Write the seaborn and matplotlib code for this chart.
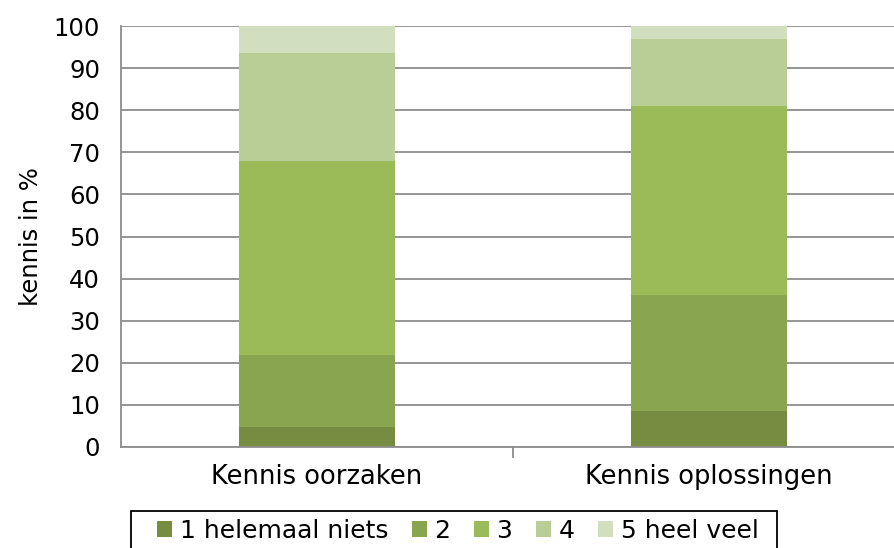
import numpy as np
import pandas as pd
import seaborn as sns
import matplotlib.pyplot as plt
from matplotlib.patches import Rectangle

categories = ["Kennis oorzaken", "Kennis oplossingen"]
levels = ["1 helemaal niets", "2", "3", "4", "5 heel veel"]
level_1 = [4.7, 8.6]
level_2 = [17.2, 27.6]
level_3 = [46.0, 44.8]
level_4 = [25.6, 15.9]
level_5 = [6.5, 3.1]
colors = ["#758C41", "#8AA54F", "#9BBB59", "#B9CE96", "#D2DFBF"]

sns.set_style("white")
plt.rcParams['font.family'] = ['DejaVu Sans']
plt.rcParams['text.color'] = 'black'
plt.rcParams['axes.labelcolor'] = 'black'
plt.rcParams['xtick.labelcolor'] = 'black'
plt.rcParams['ytick.labelcolor'] = 'black'

fig = plt.figure(figsize=(8.95, 5.48), dpi=100)
ax = fig.add_axes([121 / 895, (548 - 447) / 548, 784 / 895, 421 / 548])

bottom = np.zeros(len(categories))
for name, vals, c in zip(levels, [level_1, level_2, level_3, level_4, level_5], colors):
    df = pd.DataFrame({"cat": categories, "val": vals})
    sns.barplot(data=df, x="cat", y="val", bottom=bottom, color=c, width=0.4,
                label=name, ax=ax, linewidth=0, saturation=1)
    bottom += np.array(vals)

ax.set_ylim(0, 100)
ax.set_xlim(-0.5, 1.5)
ax.set_yticks(range(0, 101, 10))
ax.yaxis.grid(True, color="#8c8c8c", linewidth=1.3)
ax.set_axisbelow(True)
for s in ["top", "right"]:
    ax.spines[s].set_visible(False)
ax.spines["left"].set_color("#8c8c8c")
ax.spines["bottom"].set_color("#8c8c8c")
ax.spines["left"].set_linewidth(1.3)
ax.spines["bottom"].set_linewidth(1.3)
ax.set_xticks([0.5], minor=True)
ax.tick_params(axis="y", which="major", length=8, color="#8c8c8c", width=1.3, labelsize=17.5, pad=7)
ax.tick_params(axis="x", which="major", length=0, labelsize=18.5, pad=12)
ax.tick_params(axis="x", which="minor", length=8, color="#8c8c8c", width=1.3, bottom=True)
ax.set_xlabel("")
ax.set_ylabel("kennis in %", fontsize=17.5, labelpad=8)

# legend without frame, box drawn separately so the padding matches
leg = ax.legend(loc="center left", bbox_to_anchor=(157 / 895, (548 - 531) / 548), bbox_transform=fig.transFigure,
                borderaxespad=0, borderpad=0, ncol=5, frameon=False, fontsize=18,
                handlelength=0.6, handleheight=0.6, handletextpad=0.3, columnspacing=0.95)
fig.patches.append(Rectangle((131 / 895, -0.02), (777 - 131) / 895, (548 - 511) / 548 + 0.02,
                             transform=fig.transFigure, fill=False, ec="black", lw=1.3))

fig.savefig("out.png", dpi=100)
